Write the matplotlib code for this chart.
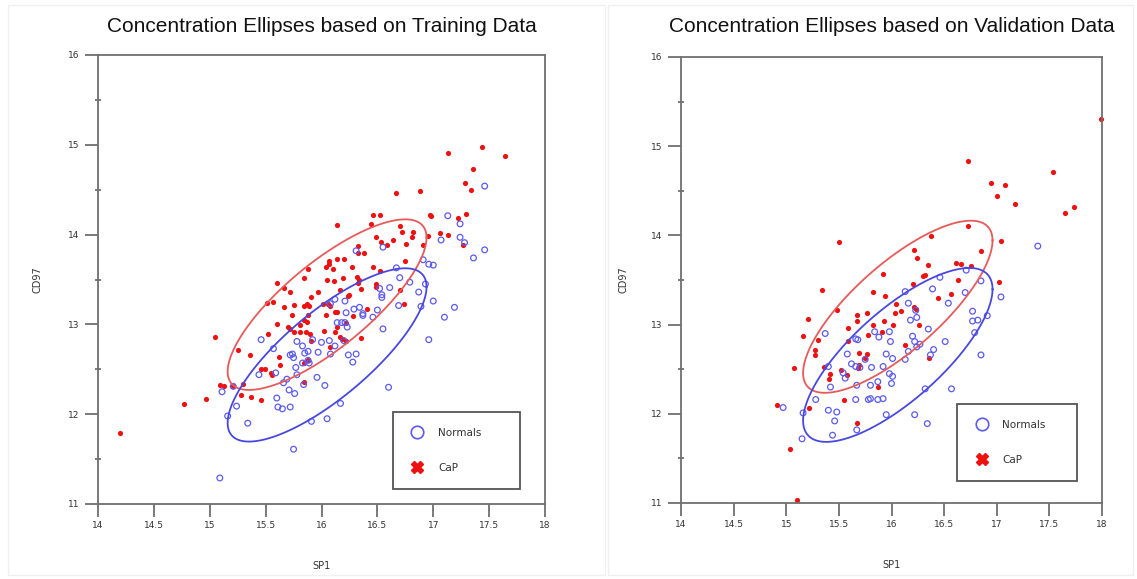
import numpy as np
import matplotlib
matplotlib.use("Agg")
import matplotlib.pyplot as plt
from matplotlib.lines import Line2D
from matplotlib.ticker import MultipleLocator, FixedLocator

# ---------------- data ----------------
train_cap_x = [17.44, 17.13, 17.64, 17.36, 17.28, 17.34, 16.67, 16.88, 17.29, 17.22, 16.97, 16.98,
               16.46, 16.52, 16.14, 16.44, 16.70, 16.72, 16.82, 16.81, 17.06, 17.13, 17.27, 16.95,
               16.49, 16.53, 16.59, 16.64, 16.76, 16.91, 16.33, 16.38, 16.33, 16.14, 16.07, 16.07,
               16.27, 16.04, 16.10, 15.88, 16.20, 16.75, 16.46, 16.52, 16.32, 16.34, 16.33, 16.19,
               16.05, 16.11, 16.49, 16.49, 15.84, 15.60, 15.66, 15.72, 15.97, 15.91, 16.17, 16.25,
               16.24, 16.35, 16.70, 16.74, 16.06, 16.08, 16.01, 15.87, 15.84, 15.89, 15.75, 15.51,
               15.57, 15.66, 16.12, 16.14, 16.28, 16.41, 16.04, 15.88, 15.74, 15.84, 15.87, 15.60,
               16.14, 16.22, 15.70, 15.72, 15.81, 15.75, 15.81, 15.86, 15.90, 16.02, 16.12, 16.17,
               16.18, 16.35, 15.91, 16.22, 15.52, 15.05, 16.08, 15.25, 15.36, 15.62, 15.63, 15.46,
               15.49, 15.55, 15.56, 15.88, 15.84, 15.09, 15.13, 15.21, 15.30, 15.28, 15.37, 15.46,
               15.84, 14.97, 14.77, 14.20]
train_cap_y = [14.97, 14.91, 14.88, 14.73, 14.57, 14.50, 14.46, 14.48, 14.23, 14.19, 14.22, 14.21,
               14.22, 14.22, 14.11, 14.12, 14.10, 14.03, 14.03, 13.97, 14.02, 14.00, 13.88, 13.98,
               13.97, 13.92, 13.88, 13.94, 13.90, 13.88, 13.87, 13.80, 13.80, 13.73, 13.71, 13.67,
               13.64, 13.64, 13.62, 13.62, 13.73, 13.71, 13.64, 13.59, 13.53, 13.49, 13.46, 13.52,
               13.49, 13.48, 13.45, 13.42, 13.52, 13.46, 13.41, 13.36, 13.36, 13.31, 13.38, 13.33,
               13.32, 13.39, 13.38, 13.23, 13.23, 13.21, 13.23, 13.23, 13.21, 13.21, 13.22, 13.24,
               13.25, 13.19, 13.14, 13.14, 13.09, 13.17, 13.10, 13.11, 13.10, 13.05, 13.03, 13.01,
               12.97, 13.02, 12.97, 12.95, 12.99, 12.92, 12.92, 12.92, 12.89, 12.93, 12.92, 12.86,
               12.84, 12.85, 12.81, 12.81, 12.89, 12.86, 12.75, 12.71, 12.66, 12.64, 12.55, 12.50,
               12.50, 12.46, 12.44, 12.60, 12.57, 12.33, 12.31, 12.31, 12.34, 12.21, 12.19, 12.16,
               12.36, 12.17, 12.11, 11.79]

train_norm_x = [17.46, 17.13, 17.24, 17.24, 17.28, 17.07, 17.46, 17.36, 16.55, 16.31, 16.91, 16.96,
                17.00, 16.67, 16.70, 16.79, 16.93, 16.87, 16.52, 16.54, 16.54, 16.61, 17.00, 16.69,
                16.89, 17.19, 17.10, 16.12, 16.21, 16.08, 16.34, 16.29, 16.22, 16.37, 16.37, 16.50,
                16.46, 16.14, 16.18, 16.21, 16.23, 16.55, 16.96, 15.46, 15.57, 15.78, 15.83, 15.92,
                16.00, 16.07, 16.20, 16.12, 15.88, 15.85, 15.97, 15.74, 15.75, 15.72, 16.08, 16.31,
                16.24, 15.83, 15.88, 15.89, 15.77, 16.28, 15.44, 15.59, 15.78, 15.69, 15.66, 15.96,
                15.84, 16.03, 16.60, 15.21, 15.11, 15.71, 15.76, 15.60, 15.61, 15.65, 15.72, 16.17,
                15.24, 15.16, 15.34, 15.91, 16.05, 15.75, 15.09]
train_norm_y = [14.54, 14.21, 14.12, 13.97, 13.91, 13.94, 13.83, 13.74, 13.86, 13.82, 13.72, 13.67,
                13.66, 13.63, 13.52, 13.47, 13.45, 13.36, 13.40, 13.33, 13.30, 13.41, 13.26, 13.21,
                13.20, 13.19, 13.08, 13.28, 13.26, 13.23, 13.19, 13.17, 13.13, 13.12, 13.10, 13.16,
                13.08, 13.02, 13.02, 13.02, 12.97, 12.95, 12.83, 12.83, 12.73, 12.81, 12.76, 12.83,
                12.80, 12.82, 12.82, 12.76, 12.70, 12.68, 12.69, 12.67, 12.63, 12.66, 12.67, 12.67,
                12.66, 12.57, 12.60, 12.57, 12.52, 12.58, 12.44, 12.46, 12.44, 12.39, 12.35, 12.41,
                12.33, 12.32, 12.30, 12.31, 12.25, 12.27, 12.23, 12.18, 12.08, 12.06, 12.08, 12.12,
                12.09, 11.98, 11.90, 11.92, 11.95, 11.61, 11.29]

valid_cap_x = [17.99, 16.73, 17.53, 16.95, 17.08, 17.00, 17.17, 17.65, 17.73, 16.73, 17.04, 16.38,
               15.50, 16.21, 16.24, 16.85, 16.35, 16.61, 16.66, 16.76, 15.92, 16.32, 16.30, 16.63,
               17.02, 16.20, 15.34, 15.82, 15.94, 16.57, 16.44, 16.04, 16.21, 16.23, 16.03, 16.09,
               15.48, 15.67, 15.77, 15.67, 15.21, 15.93, 16.01, 15.82, 16.26, 15.59, 15.78, 15.91,
               15.16, 15.30, 15.59, 15.27, 15.27, 15.69, 15.77, 15.75, 16.13, 16.36, 15.69, 15.68,
               15.36, 15.07, 15.52, 15.42, 15.41, 15.58, 15.87, 15.55, 14.91, 15.22, 15.67, 15.04,
               15.10]
valid_cap_y = [15.30, 14.83, 14.71, 14.59, 14.56, 14.44, 14.35, 14.25, 14.32, 14.10, 13.94, 13.99,
               13.93, 13.84, 13.75, 13.82, 13.67, 13.69, 13.68, 13.66, 13.57, 13.56, 13.54, 13.50,
               13.48, 13.45, 13.39, 13.36, 13.32, 13.34, 13.30, 13.23, 13.20, 13.17, 13.13, 13.15,
               13.16, 13.11, 13.13, 13.04, 13.06, 13.04, 13.00, 13.00, 12.99, 12.96, 12.88, 12.92,
               12.87, 12.83, 12.82, 12.72, 12.66, 12.68, 12.67, 12.63, 12.77, 12.62, 12.55, 12.51,
               12.52, 12.51, 12.49, 12.45, 12.39, 12.43, 12.30, 12.16, 12.10, 12.06, 11.90, 11.60,
               11.03]

valid_norm_x = [17.39, 16.46, 16.71, 16.85, 16.13, 16.39, 16.70, 17.04, 16.16, 16.54, 16.23, 16.77,
                16.18, 16.24, 16.77, 16.82, 16.91, 16.35, 16.79, 15.84, 15.98, 15.88, 15.99, 16.20,
                16.22, 16.27, 16.24, 15.37, 15.66, 15.68, 16.51, 16.40, 16.37, 16.16, 15.95, 16.01,
                16.13, 16.85, 15.58, 15.62, 15.66, 15.70, 15.75, 15.81, 15.92, 15.40, 15.54, 15.56,
                15.98, 16.01, 16.00, 15.87, 15.80, 15.67, 15.42, 16.32, 16.57, 15.28, 15.66, 15.78,
                15.80, 15.87, 15.92, 14.97, 15.16, 15.40, 15.48, 15.46, 15.95, 16.22, 16.34, 15.44,
                15.67, 15.15]
valid_norm_y = [13.88, 13.53, 13.61, 13.49, 13.37, 13.40, 13.36, 13.31, 13.24, 13.24, 13.16, 13.15,
                13.05, 13.08, 13.04, 13.05, 13.10, 12.95, 12.91, 12.92, 12.92, 12.86, 12.81, 12.87,
                12.81, 12.78, 12.75, 12.90, 12.84, 12.83, 12.81, 12.72, 12.66, 12.70, 12.67, 12.62,
                12.61, 12.66, 12.67, 12.56, 12.53, 12.52, 12.61, 12.52, 12.53, 12.53, 12.46, 12.40,
                12.45, 12.42, 12.34, 12.36, 12.32, 12.32, 12.30, 12.28, 12.28, 12.16, 12.16, 12.16,
                12.17, 12.16, 12.17, 12.07, 12.01, 12.04, 12.02, 11.92, 11.99, 11.99, 11.89, 11.76,
                11.82, 11.72]

# ellipse parameters: center x, center y, half x-extent, half y-extent, correlation
train_ell_cap = (16.05, 13.22, 0.89, 0.95, 0.785)
train_ell_norm = (16.05, 12.66, 0.89, 0.965, 0.785)
valid_ell_cap = (16.06, 13.20, 0.90, 0.965, 0.77)
valid_ell_norm = (16.06, 12.66, 0.90, 0.975, 0.755)

titles = ["Concentration Ellipses based on Training Data",
          "Concentration Ellipses based on Validation Data"]
series_labels = ["Normals", "CaP"]
x_label = "SP1"
y_label = "CD97"
x_ticks = [14, 14.5, 15, 15.5, 16, 16.5, 17, 17.5, 18]
x_tick_labels = ["14", "14.5", "15", "15.5", "16", "16.5", "17", "17.5", "18"]
y_ticks = [11, 12, 13, 14, 15, 16]
y_tick_labels = ["11", "12", "13", "14", "15", "16"]

# ---------------- style ----------------
BLUE_PT = "#5b5bf0"
RED_PT = "#ee1111"
BLUE_ELL = "#4848e0"
RED_ELL = "#e85a5a"
SPINE = "#707070"
TXT = "#333333"

plt.rcParams['font.family'] = ['DejaVu Sans']

fig = plt.figure(figsize=(11.37, 5.79), dpi=100)

# faint panel borders
fig.add_artist(plt.Rectangle((8 / 1137, 4 / 579), 597 / 1137, 570 / 579, transform=fig.transFigure,
                             fill=False, edgecolor="#f0f0f0", lw=1))
fig.add_artist(plt.Rectangle((608 / 1137, 4 / 579), 525 / 1137, 570 / 579, transform=fig.transFigure,
                             fill=False, edgecolor="#f0f0f0", lw=1))

ax_l = fig.add_axes([98 / 1137, 1 - 504 / 579, 447 / 1137, 449 / 579])
ax_r = fig.add_axes([681 / 1137, 1 - 503 / 579, 421 / 1137, 446 / 579])


def ellipse(ax, params, color):
    cx, cy, sx, sy, rho = params
    t = np.linspace(0, 2 * np.pi, 300)
    ex = cx + sx * np.cos(t)
    ey = cy + sy * (rho * np.cos(t) + np.sqrt(1 - rho ** 2) * np.sin(t))
    ax.plot(ex, ey, color=color, lw=1.3, zorder=3)


def panel(ax, title, cap_x, cap_y, norm_x, norm_y, ell_cap, ell_norm, leg_box, title_off):
    ax.scatter(cap_x, cap_y, s=14, c=RED_PT, marker='o', linewidths=0, zorder=2, clip_on=False)
    ax.scatter(norm_x, norm_y, s=17, facecolors='none', edgecolors=BLUE_PT, linewidths=0.9,
               zorder=2)
    ellipse(ax, ell_cap, RED_ELL)
    ellipse(ax, ell_norm, BLUE_ELL)
    ax.set_xlim(14, 18)
    ax.set_ylim(11, 16)

    ax.xaxis.set_major_locator(FixedLocator(x_ticks))
    ax.set_xticklabels(x_tick_labels)
    ax.yaxis.set_major_locator(FixedLocator(y_ticks))
    ax.set_yticklabels(y_tick_labels)
    ax.yaxis.set_minor_locator(MultipleLocator(0.5))
    ax.tick_params(axis='both', which='major', direction='out', length=9.5, width=1.3,
                   color=SPINE, labelsize=6.5, labelcolor=TXT)
    ax.tick_params(axis='x', which='major', pad=3)
    ax.tick_params(axis='y', which='major', pad=4)
    ax.tick_params(axis='y', which='minor', direction='inout', length=5, width=1.3, color=SPINE)
    for sp in ax.spines.values():
        sp.set_color(SPINE)
        sp.set_linewidth(1.3)

    ax.set_xlabel(x_label, fontsize=7, color=TXT)
    ax.xaxis.set_label_coords(0.5, -0.128)
    ax.set_ylabel(y_label, fontsize=7, color=TXT)
    ax.yaxis.set_label_coords(-0.124, 0.5)

    ax.text(0.5, 1 + title_off, title, transform=ax.transAxes, ha='center', va='center',
            fontsize=15, family='Liberation Sans', color='#111111')

    handles = [Line2D([], [], marker='o', mfc='none', mec=BLUE_PT, ms=9, mew=1.2, ls='none'),
               Line2D([], [], marker='X', color=RED_PT, mec=RED_PT, ms=8, ls='none')]
    leg = ax.legend(handles, series_labels, loc='lower left', bbox_to_anchor=leg_box,
                    mode='expand', fontsize=7.5, frameon=True, fancybox=False,
                    edgecolor='#555555', framealpha=1, labelspacing=2.4, borderpad=1.55,
                    handletextpad=1.2, borderaxespad=0, handlelength=1.6)
    leg.get_frame().set_linewidth(1.3)
    for t in leg.get_texts():
        t.set_color(TXT)


panel(ax_l, titles[0], train_cap_x, train_cap_y, train_norm_x, train_norm_y,
      train_ell_cap, train_ell_norm, (0.66, 0.033, 0.284, 0.176), 28 / 449)
panel(ax_r, titles[1], valid_cap_x, valid_cap_y, valid_norm_x, valid_norm_y,
      valid_ell_cap, valid_ell_norm, (0.656, 0.049, 0.285, 0.173), 30 / 446)

fig.savefig("out.png", dpi=100)
